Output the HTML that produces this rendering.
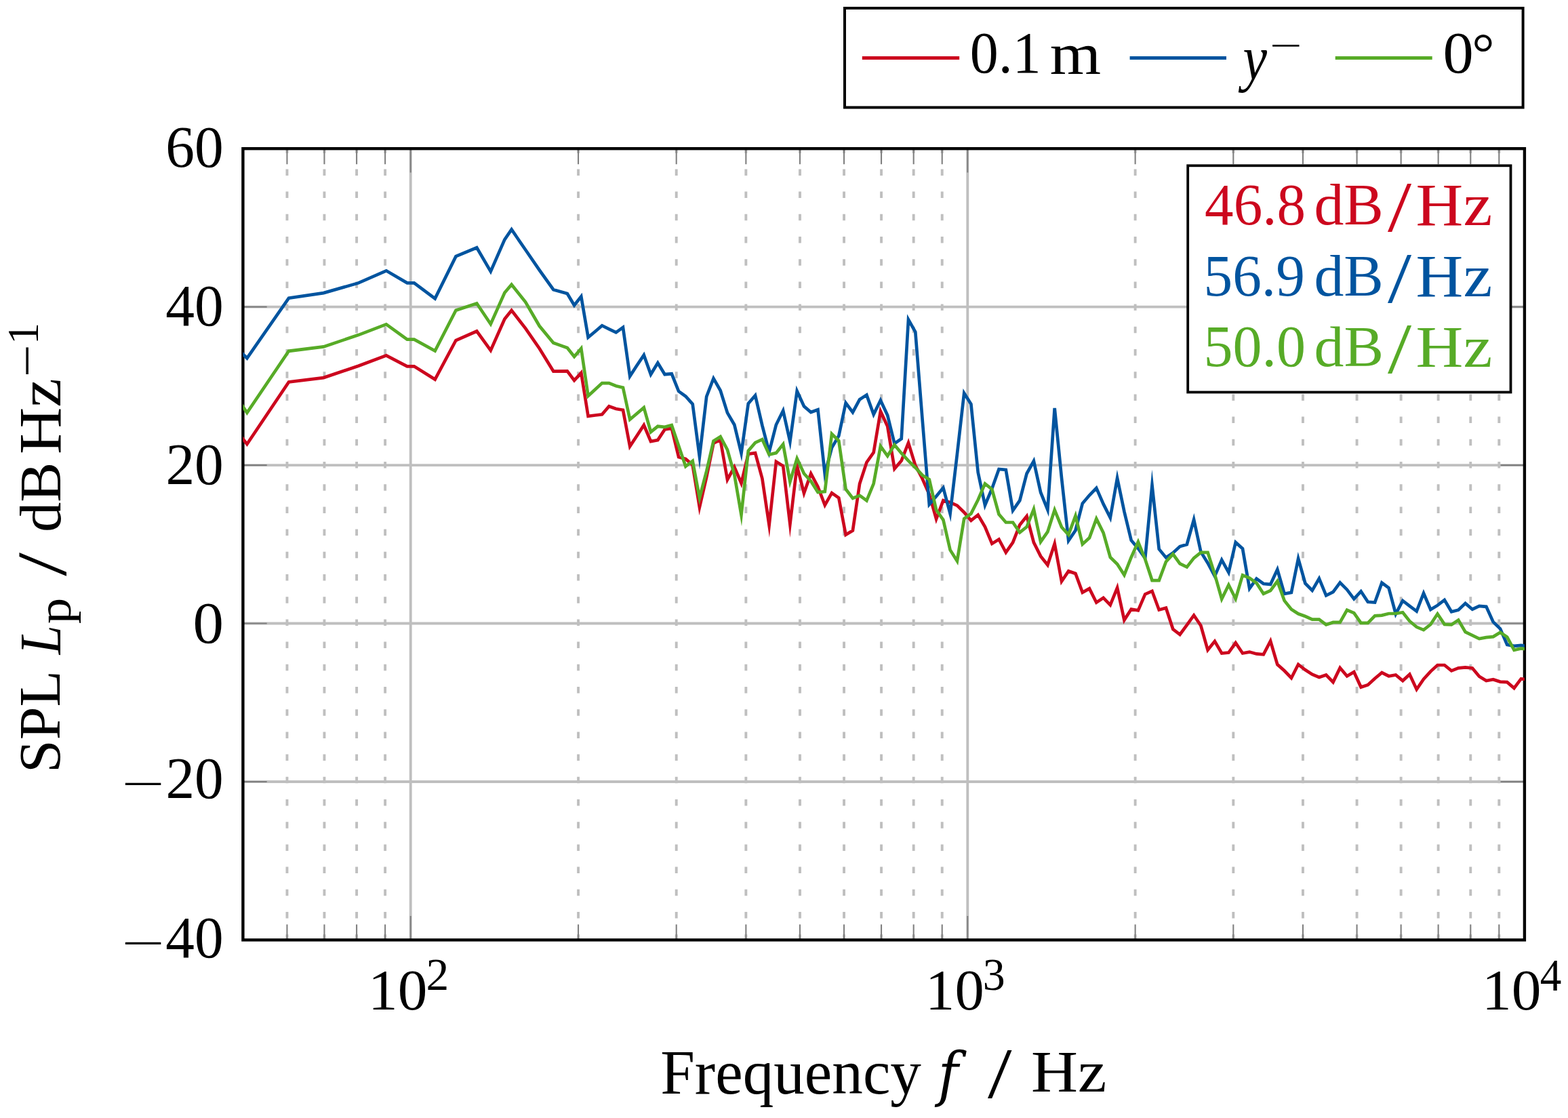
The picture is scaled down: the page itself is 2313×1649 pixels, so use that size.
<!DOCTYPE html><html><head><meta charset="utf-8"><style>html,body{margin:0;padding:0;background:#fff}svg{display:block}</style></head><body>
<svg width="2313" height="1649" viewBox="0 0 2313 1649">
<rect width="2313" height="1649" fill="#fff"/>
<defs><clipPath id="c"><rect x="358.4" y="219.2" width="1890.5" height="1167.2"/></clipPath></defs>
<path d="M423.45 1387.70V219.20M478.46 1387.70V219.20M526.10 1387.70V219.20M568.13 1387.70V219.20M853.05 1387.70V219.20M997.72 1387.70V219.20M1100.37 1387.70V219.20M1179.99 1387.70V219.20M1245.04 1387.70V219.20M1300.05 1387.70V219.20M1347.69 1387.70V219.20M1389.72 1387.70V219.20M1674.63 1387.70V219.20M1819.31 1387.70V219.20M1921.96 1387.70V219.20M2001.58 1387.70V219.20M2066.63 1387.70V219.20M2121.63 1387.70V219.20M2169.28 1387.70V219.20M2211.31 1387.70V219.20" stroke="#BFBFBF" stroke-width="3.9" stroke-dasharray="9.5 23.7" fill="none"/>
<path d="M605.72 1386.40V219.20M1427.31 1386.40V219.20M358.40 452.64H2248.90M358.40 686.08H2248.90M358.40 919.52H2248.90M358.40 1152.96H2248.90" stroke="#BFBFBF" stroke-width="3.9" fill="none"/>
<path d="M423.45 1386.40v-23.00M423.45 219.20v23.00M478.46 1386.40v-23.00M478.46 219.20v23.00M526.10 1386.40v-23.00M526.10 219.20v23.00M568.13 1386.40v-23.00M568.13 219.20v23.00M853.05 1386.40v-23.00M853.05 219.20v23.00M997.72 1386.40v-23.00M997.72 219.20v23.00M1100.37 1386.40v-23.00M1100.37 219.20v23.00M1179.99 1386.40v-23.00M1179.99 219.20v23.00M1245.04 1386.40v-23.00M1245.04 219.20v23.00M1300.05 1386.40v-23.00M1300.05 219.20v23.00M1347.69 1386.40v-23.00M1347.69 219.20v23.00M1389.72 1386.40v-23.00M1389.72 219.20v23.00M1674.63 1386.40v-23.00M1674.63 219.20v23.00M1819.31 1386.40v-23.00M1819.31 219.20v23.00M1921.96 1386.40v-23.00M1921.96 219.20v23.00M2001.58 1386.40v-23.00M2001.58 219.20v23.00M2066.63 1386.40v-23.00M2066.63 219.20v23.00M2121.63 1386.40v-23.00M2121.63 219.20v23.00M2169.28 1386.40v-23.00M2169.28 219.20v23.00M2211.31 1386.40v-23.00M2211.31 219.20v23.00M605.72 1386.40v-35.30M605.72 219.20v35.30M1427.31 1386.40v-35.30M1427.31 219.20v35.30M358.40 452.64h35.30M2248.90 452.64h-35.30M358.40 686.08h35.30M2248.90 686.08h-35.30M358.40 919.52h35.30M2248.90 919.52h-35.30M358.40 1152.96h35.30M2248.90 1152.96h-35.30" stroke="#808080" stroke-width="2.1" fill="none"/>
<rect x="358.40" y="219.20" width="1890.50" height="1167.20" fill="none" stroke="#000" stroke-width="4.4"/>
<g clip-path="url(#c)" fill="none" stroke-width="4.7" stroke-linejoin="miter" stroke-miterlimit="10">
<path d="M340.0 623.6 L364.4 655.1 L426.0 563.5 L477.3 557.1 L528.7 539.8 L569.8 524.3 L600.6 540.3 L610.9 540.3 L641.7 559.6 L672.5 502.0 L703.3 488.5 L723.8 516.8 L744.4 470.6 L754.6 457.7 L775.2 484.4 L795.7 514.0 L816.3 547.6 L836.8 547.3 L847.1 561.1 L857.3 550.0 L867.6 613.8 L877.9 612.5 L888.1 611.3 L898.4 599.3 L908.7 603.0 L919.0 604.8 L929.2 658.4 L939.5 642.7 L949.8 627.0 L960.0 651.0 L970.3 649.1 L980.6 633.5 L990.8 631.6 L1001.1 674.1 L1011.4 676.9 L1021.7 686.0 L1031.9 748.1 L1042.2 703.7 L1052.5 653.7 L1062.7 648.9 L1073.0 707.5 L1083.3 688.9 L1093.5 712.7 L1103.8 669.7 L1114.1 668.1 L1124.4 706.0 L1134.6 774.7 L1144.9 680.9 L1155.2 687.3 L1165.4 773.2 L1175.7 687.3 L1186.0 727.4 L1196.2 698.5 L1206.5 718.0 L1216.8 745.1 L1227.0 727.1 L1237.3 734.4 L1247.6 788.8 L1257.9 782.6 L1268.1 713.5 L1278.4 682.0 L1288.7 667.4 L1298.9 606.7 L1309.2 628.8 L1319.5 691.5 L1329.7 679.6 L1340.0 653.2 L1350.3 686.7 L1360.6 706.0 L1370.8 729.2 L1381.1 765.5 L1391.4 738.2 L1401.6 741.0 L1411.9 745.6 L1422.2 755.7 L1432.4 767.7 L1442.7 759.5 L1453.0 777.0 L1463.3 801.9 L1473.5 795.5 L1483.8 814.8 L1494.1 800.1 L1504.3 774.2 L1514.6 761.3 L1524.9 800.1 L1535.1 820.4 L1545.4 833.3 L1555.7 801.9 L1566.0 857.5 L1576.2 842.4 L1586.5 845.9 L1596.8 873.9 L1607.0 868.1 L1617.3 888.7 L1627.6 881.9 L1637.8 892.3 L1648.1 866.9 L1658.4 914.6 L1668.7 898.5 L1678.9 900.4 L1689.2 876.4 L1699.5 871.8 L1709.7 899.5 L1720.0 896.7 L1730.3 928.1 L1740.5 935.9 L1750.8 921.8 L1761.1 907.5 L1771.4 922.8 L1781.6 958.8 L1791.9 945.9 L1802.2 963.5 L1812.4 962.5 L1822.7 948.2 L1833.0 963.5 L1843.2 961.6 L1853.5 964.4 L1863.8 965.3 L1874.1 945.6 L1884.3 980.1 L1894.6 989.3 L1904.9 1000.0 L1915.1 980.0 L1925.4 988.0 L1935.7 994.7 L1945.9 999.0 L1956.2 995.5 L1966.5 1006.1 L1976.7 985.1 L1987.0 997.2 L1997.3 991.2 L2007.6 1013.6 L2017.8 1010.2 L2028.1 1000.7 L2038.4 992.1 L2048.6 997.2 L2058.9 995.5 L2069.2 1004.1 L2079.4 994.7 L2089.7 1016.7 L2100.0 1001.6 L2110.3 990.3 L2120.5 981.0 L2130.8 981.0 L2141.1 989.4 L2151.3 985.4 L2161.6 984.4 L2171.9 985.4 L2182.1 997.7 L2192.4 1004.1 L2202.7 1002.2 L2213.0 1005.6 L2223.2 1006.1 L2233.5 1015.0 L2243.8 1001.2 L2254.0 1002.7" stroke="#CC071E"/>
<path d="M340.0 504.5 L364.4 528.3 L426.0 439.6 L477.3 432.1 L528.7 417.4 L569.8 399.3 L600.6 417.4 L610.9 417.4 L641.7 440.4 L672.5 378.2 L703.3 365.3 L723.8 400.4 L744.4 353.3 L754.6 338.5 L775.2 368.5 L795.7 398.4 L816.3 427.2 L836.8 433.1 L847.1 450.3 L857.3 437.3 L867.6 497.5 L877.9 489.0 L888.1 480.2 L898.4 485.3 L908.7 490.3 L919.0 482.9 L929.2 555.0 L939.5 539.0 L949.8 523.6 L960.0 552.2 L970.3 535.2 L980.6 552.2 L990.8 551.3 L1001.1 577.1 L1011.4 584.5 L1021.7 596.0 L1031.9 673.6 L1042.2 585.0 L1052.5 558.2 L1062.7 576.0 L1073.0 608.9 L1083.3 626.5 L1093.5 668.5 L1103.8 595.2 L1114.1 583.2 L1124.4 627.6 L1134.6 666.7 L1144.9 626.5 L1155.2 605.8 L1165.4 651.4 L1175.7 576.8 L1186.0 599.2 L1196.2 608.0 L1206.5 604.2 L1216.8 699.2 L1227.0 660.3 L1237.3 643.0 L1247.6 594.3 L1257.9 608.1 L1268.1 589.2 L1278.4 582.6 L1288.7 611.3 L1298.9 590.5 L1309.2 612.5 L1319.5 654.2 L1329.7 647.1 L1340.0 471.3 L1350.3 489.6 L1360.6 618.6 L1370.8 743.9 L1381.1 732.0 L1391.4 719.5 L1401.6 757.6 L1411.9 670.0 L1422.2 579.8 L1432.4 596.0 L1442.7 696.7 L1453.0 745.2 L1463.3 720.7 L1473.5 692.0 L1483.8 693.0 L1494.1 753.0 L1504.3 738.2 L1514.6 698.5 L1524.9 680.1 L1535.1 726.2 L1545.4 751.8 L1555.7 602.0 L1566.0 705.0 L1576.2 797.4 L1586.5 782.2 L1596.8 742.5 L1607.0 730.5 L1617.3 719.9 L1627.6 743.4 L1637.8 763.6 L1648.1 705.1 L1658.4 754.5 L1668.7 797.0 L1678.9 809.0 L1689.2 823.5 L1699.5 715.7 L1709.7 809.9 L1720.0 822.4 L1730.3 815.4 L1740.5 806.0 L1750.8 803.0 L1761.1 766.4 L1771.4 813.9 L1781.6 830.5 L1791.9 849.9 L1802.2 825.9 L1812.4 844.3 L1822.7 799.9 L1833.0 809.3 L1843.2 868.0 L1853.5 853.6 L1863.8 861.0 L1874.1 861.9 L1884.3 840.0 L1894.6 875.7 L1904.9 873.9 L1915.1 823.9 L1925.4 860.5 L1935.7 871.0 L1945.9 853.4 L1956.2 878.3 L1966.5 873.1 L1976.7 859.3 L1987.0 869.7 L1997.3 883.4 L2007.6 872.2 L2017.8 887.8 L2028.1 888.6 L2038.4 859.6 L2048.6 867.1 L2058.9 905.5 L2069.2 886.0 L2079.4 893.8 L2089.7 901.6 L2100.0 875.0 L2110.3 899.0 L2120.5 892.9 L2130.8 885.0 L2141.1 902.2 L2151.3 899.7 L2161.6 889.9 L2171.9 898.7 L2182.1 893.8 L2192.4 894.8 L2202.7 917.4 L2213.0 927.3 L2223.2 950.9 L2233.5 952.9 L2243.8 951.9 L2254.0 953.4" stroke="#00549F"/>
<path d="M340.0 572.6 L364.4 608.8 L426.0 517.8 L477.3 511.4 L528.7 494.1 L569.8 478.4 L600.6 500.6 L610.9 500.6 L641.7 517.5 L672.5 457.7 L703.3 447.5 L723.8 478.0 L744.4 431.8 L754.6 419.8 L775.2 445.6 L795.7 480.8 L816.3 505.7 L836.8 513.1 L847.1 526.0 L857.3 514.0 L867.6 584.0 L877.9 574.5 L888.1 565.1 L898.4 565.1 L908.7 569.2 L919.0 571.6 L929.2 618.7 L939.5 610.0 L949.8 601.1 L960.0 637.1 L970.3 628.8 L980.6 629.8 L990.8 627.0 L1001.1 657.5 L1011.4 687.9 L1021.7 680.0 L1031.9 734.3 L1042.2 695.0 L1052.5 650.5 L1062.7 644.1 L1073.0 663.3 L1083.3 700.1 L1093.5 759.4 L1103.8 664.9 L1114.1 652.9 L1124.4 648.1 L1134.6 670.5 L1144.9 668.1 L1155.2 655.3 L1165.4 710.5 L1175.7 676.3 L1186.0 698.5 L1196.2 709.7 L1206.5 726.0 L1216.8 725.0 L1227.0 640.0 L1237.3 650.1 L1247.6 721.5 L1257.9 735.0 L1268.1 730.8 L1278.4 738.3 L1288.7 713.3 L1298.9 658.2 L1309.2 672.5 L1319.5 656.2 L1329.7 668.4 L1340.0 679.6 L1350.3 689.7 L1360.6 700.9 L1370.8 707.2 L1381.1 752.0 L1391.4 766.8 L1401.6 811.2 L1411.9 827.5 L1422.2 765.0 L1432.4 757.6 L1442.7 737.3 L1453.0 713.4 L1463.3 721.6 L1473.5 758.5 L1483.8 770.5 L1494.1 770.5 L1504.3 785.3 L1514.6 777.0 L1524.9 751.1 L1535.1 799.2 L1545.4 784.4 L1555.7 752.1 L1566.0 777.5 L1576.2 788.7 L1586.5 760.8 L1596.8 802.7 L1607.0 793.3 L1617.3 765.1 L1627.6 785.9 L1637.8 821.9 L1648.1 832.1 L1658.4 848.1 L1668.7 821.9 L1678.9 799.3 L1689.2 824.7 L1699.5 856.1 L1709.7 856.1 L1720.0 828.4 L1730.3 817.3 L1740.5 831.3 L1750.8 836.4 L1761.1 823.1 L1771.4 814.8 L1781.6 814.8 L1791.9 847.1 L1802.2 883.5 L1812.4 862.8 L1822.7 883.2 L1833.0 848.4 L1843.2 852.6 L1853.5 860.0 L1863.8 875.7 L1874.1 871.1 L1884.3 857.3 L1894.6 885.9 L1904.9 898.8 L1915.1 905.3 L1925.4 909.0 L1935.7 913.6 L1945.9 913.6 L1956.2 921.4 L1966.5 917.9 L1976.7 917.9 L1987.0 899.8 L1997.3 904.1 L2007.6 918.8 L2017.8 918.8 L2028.1 908.4 L2038.4 907.6 L2048.6 905.0 L2058.9 905.0 L2069.2 903.3 L2079.4 916.2 L2089.7 924.8 L2100.0 929.1 L2110.3 921.0 L2120.5 905.5 L2130.8 920.9 L2141.1 921.4 L2151.3 914.5 L2161.6 932.2 L2171.9 937.1 L2182.1 942.1 L2192.4 940.1 L2202.7 939.1 L2213.0 932.7 L2223.2 939.6 L2233.5 958.8 L2243.8 956.4 L2254.0 957.8" stroke="#57AB27"/>
</g>
<rect x="1752.2" y="244.3" width="476.3" height="334.2" fill="#fff" stroke="#000" stroke-width="3.8"/>
<rect x="1246" y="12" width="1000.6" height="146.5" fill="#fff" stroke="#000" stroke-width="4"/>
<path d="M1271.8 85.5H1415.2" stroke="#CC071E" stroke-width="4.8"/>
<path d="M1666.6 85.5H1809" stroke="#00549F" stroke-width="4.8"/>
<path d="M1969.7 85.5H2112.7" stroke="#57AB27" stroke-width="4.8"/>
<text transform="matrix(0.84000 0 0 0.85735 1430.640 107.285)" font-family="Liberation Serif, serif" font-size="100" fill="#000000">0.1</text>
<text transform="matrix(0.96892 0 0 0.85745 1548.662 108.600)" font-family="Liberation Serif, serif" font-size="100" fill="#000000">m</text>
<text transform="matrix(0.80000 0 0 0.93582 1833.400 116.748)" font-family="Liberation Serif, serif" font-size="100" font-style="italic" fill="#000000">y</text>
<text transform="matrix(0.84681 0 0 0.54000 1872.766 84.740)" font-family="Liberation Serif, serif" font-size="100" fill="#000000">−</text>
<text transform="matrix(0.90476 0 0 0.86567 2128.381 107.069)" font-family="Liberation Serif, serif" font-size="100" fill="#000000">0</text>
<text transform="matrix(0.83333 0 0 0.83333 2171.233 106.400)" font-family="Liberation Serif, serif" font-size="100" fill="#000000">°</text>
<text transform="matrix(0.85089 0 0 0.86119 1777.098 330.978)" font-family="Liberation Serif, serif" font-size="100" fill="#CC071E">46.8</text>
<text transform="matrix(0.87778 0 0 0.85857 1938.489 331.441)" font-family="Liberation Serif, serif" font-size="100" fill="#CC071E">dB</text>
<text transform="matrix(1.26429 0 0 1.05606 2047.000 340.844)" font-family="Liberation Serif, serif" font-size="100" fill="#CC071E">/</text>
<text transform="matrix(0.96667 0 0 0.88154 2088.600 332.300)" font-family="Liberation Serif, serif" font-size="100" fill="#CC071E">Hz</text>
<text transform="matrix(0.85394 0 0 0.86866 1775.476 435.963)" font-family="Liberation Serif, serif" font-size="100" fill="#00549F">56.9</text>
<text transform="matrix(0.87778 0 0 0.85857 1938.489 436.441)" font-family="Liberation Serif, serif" font-size="100" fill="#00549F">dB</text>
<text transform="matrix(1.26429 0 0 1.05606 2047.000 445.844)" font-family="Liberation Serif, serif" font-size="100" fill="#00549F">/</text>
<text transform="matrix(0.96667 0 0 0.88154 2088.600 437.300)" font-family="Liberation Serif, serif" font-size="100" fill="#00549F">Hz</text>
<text transform="matrix(0.86061 0 0 0.87612 1775.436 539.848)" font-family="Liberation Serif, serif" font-size="100" fill="#57AB27">50.0</text>
<text transform="matrix(0.87778 0 0 0.85429 1938.489 540.046)" font-family="Liberation Serif, serif" font-size="100" fill="#57AB27">dB</text>
<text transform="matrix(1.26429 0 0 1.05455 2047.000 549.645)" font-family="Liberation Serif, serif" font-size="100" fill="#57AB27">/</text>
<text transform="matrix(0.96667 0 0 0.86769 2088.600 540.900)" font-family="Liberation Serif, serif" font-size="100" fill="#57AB27">Hz</text>
<text transform="matrix(0.85435 0 0 0.87164 244.183 246.457)" font-family="Liberation Serif, serif" font-size="100" fill="#000000">60</text>
<text transform="matrix(0.85532 0 0 0.86866 244.289 480.063)" font-family="Liberation Serif, serif" font-size="100" fill="#000000">40</text>
<text transform="matrix(0.85435 0 0 0.87463 244.383 713.551)" font-family="Liberation Serif, serif" font-size="100" fill="#000000">20</text>
<text transform="matrix(0.90952 0 0 0.87612 284.562 947.548)" font-family="Liberation Serif, serif" font-size="100" fill="#000000">0</text>
<text transform="matrix(1.12766 0 0 0.62000 179.262 1177.320)" font-family="Liberation Serif, serif" font-size="100" fill="#000000">−</text>
<text transform="matrix(0.85217 0 0 0.86418 244.391 1177.072)" font-family="Liberation Serif, serif" font-size="100" fill="#000000">20</text>
<text transform="matrix(1.12766 0 0 0.62000 179.262 1412.320)" font-family="Liberation Serif, serif" font-size="100" fill="#000000">−</text>
<text transform="matrix(0.85319 0 0 0.86418 244.294 1412.072)" font-family="Liberation Serif, serif" font-size="100" fill="#000000">40</text>
<text transform="matrix(0.87356 0 0 0.85294 543.038 1489.194)" font-family="Liberation Serif, serif" font-size="100" fill="#000000">10</text>
<text transform="matrix(0.67500 0 0 0.67692 628.400 1459.900)" font-family="Liberation Serif, serif" font-size="100" fill="#000000">2</text>
<text transform="matrix(0.86552 0 0 0.84853 1365.110 1488.903)" font-family="Liberation Serif, serif" font-size="100" fill="#000000">10</text>
<text transform="matrix(0.65854 0 0 0.66667 1449.707 1460.333)" font-family="Liberation Serif, serif" font-size="100" fill="#000000">3</text>
<text transform="matrix(0.87471 0 0 0.83971 2186.028 1489.321)" font-family="Liberation Serif, serif" font-size="100" fill="#000000">10</text>
<text transform="matrix(0.63261 0 0 0.67385 2271.635 1460.800)" font-family="Liberation Serif, serif" font-size="100" fill="#000000">4</text>
<text transform="matrix(0.91169 0 0 0.93023 974.165 1613.365)" font-family="Liberation Serif, serif" font-size="100" fill="#000000">Frequency</text>
<text transform="matrix(0.81034 0 0 0.87292 1383.762 1614.669)" font-family="DejaVu Serif, serif" font-size="100" font-style="italic" fill="#000000">f</text>
<text transform="matrix(1.27857 0 0 1.06515 1457.100 1618.935)" font-family="Liberation Serif, serif" font-size="100" fill="#000000">/</text>
<text transform="matrix(0.95495 0 0 0.87538 1520.935 1609.900)" font-family="Liberation Serif, serif" font-size="100" fill="#000000">Hz</text>
<text transform="matrix(0 -0.87610 0.86567 0 87.869 1140.033)" font-family="Liberation Serif, serif" font-size="100" fill="#000000">SPL</text>
<text transform="matrix(0 -0.77308 0.86538 0 88.750 965.327)" font-family="Liberation Serif, serif" font-size="100" font-style="italic" fill="#000000">L</text>
<text transform="matrix(0 -0.77273 0.69559 0 104.493 920.345)" font-family="Liberation Serif, serif" font-size="100" fill="#000000">p</text>
<text transform="matrix(0 -1.25357 1.04545 0 97.155 849.700)" font-family="Liberation Serif, serif" font-size="100" fill="#000000">/</text>
<text transform="matrix(0 -0.88796 0.86143 0 88.639 785.052)" font-family="Liberation Serif, serif" font-size="100" fill="#000000">dB</text>
<text transform="matrix(0 -0.95856 0.88000 0 89.000 670.076)" font-family="Liberation Serif, serif" font-size="100" fill="#000000">Hz</text>
<text transform="matrix(0 -0.85106 0.72000 0 63.620 556.255)" font-family="Liberation Serif, serif" font-size="100" fill="#000000">−</text>
<text transform="matrix(0 -0.64000 0.66515 0 55.800 507.960)" font-family="Liberation Serif, serif" font-size="100" fill="#000000">1</text>
</svg></body></html>
